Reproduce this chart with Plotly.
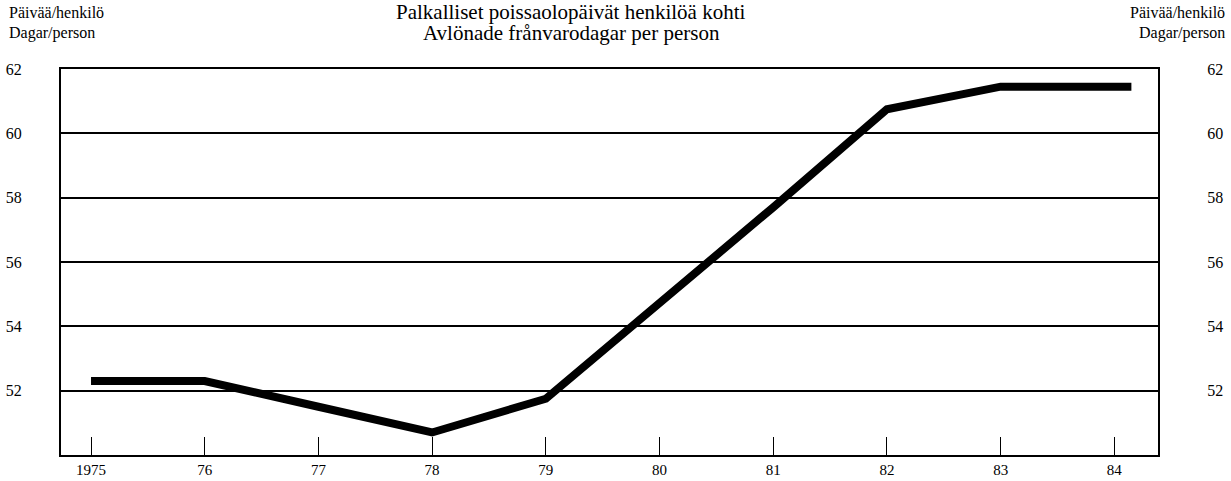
import plotly.graph_objects as go

# Paid absence days per person
years = [1975, 1976, 1977, 1978, 1979, 1980, 1981, 1982, 1983, 1984.15]
days = [52.3, 52.3, 51.5, 50.7, 51.75, 54.7, 57.7, 60.75, 61.45, 61.45]

x_ticks = [1975, 1976, 1977, 1978, 1979, 1980, 1981, 1982, 1983, 1984]
x_labels = ["1975", "76", "77", "78", "79", "80", "81", "82", "83", "84"]
y_ticks = [52, 54, 56, 58, 60, 62]

title_lines = ["Palkalliset poissaolopäivät henkilöä kohti",
               "Avlönade frånvarodagar per person"]
unit_lines = ["Päivää/henkilö", "Dagar/person"]

FONT = "Liberation Serif, Times New Roman, serif"

fig = go.Figure()

fig.add_trace(go.Scatter(
    x=years,
    y=days,
    mode="lines",
    line=dict(color="black", width=8),
    showlegend=False,
    hoverinfo="x+y",
))

# invisible trace to drive the right-hand axis
fig.add_trace(go.Scatter(
    x=[years[0]], y=[days[0]], yaxis="y2",
    mode="markers", marker=dict(opacity=0),
    showlegend=False, hoverinfo="skip",
))

yaxis_common = dict(
    range=[50, 62],
    tickvals=y_ticks,
    ticks="",
    tickfont=dict(family=FONT, size=16, color="black"),
    showline=True,
    linecolor="black",
    linewidth=2,
    zeroline=False,
    automargin=False,
)

fig.update_layout(
    width=1231,
    height=481,
    margin=dict(l=61, r=73, t=69, b=26, autoexpand=False),
    paper_bgcolor="white",
    plot_bgcolor="white",
    font=dict(family=FONT, color="black"),
    xaxis=dict(
        range=[1974.736, 1984.384],
        tickvals=x_ticks,
        ticktext=x_labels,
        ticks="inside",
        ticklen=18,
        tickwidth=1,
        tickcolor="black",
        tickfont=dict(family=FONT, size=15, color="black"),
        ticklabelstandoff=0,
        showgrid=False,
        showline=True,
        linecolor="black",
        linewidth=2,
        mirror=True,
        zeroline=False,
        automargin=False,
    ),
    yaxis=dict(
        **yaxis_common,
        showgrid=True,
        gridcolor="black",
        gridwidth=1.5,
        ticklabelstandoff=34,
    ),
    yaxis2=dict(
        **yaxis_common,
        overlaying="y",
        side="right",
        showgrid=False,
        ticklabelstandoff=44,
    ),
)

line_shifts = [57, 36]
for text, shift in zip(title_lines, line_shifts):
    fig.add_annotation(
        text=text, xref="paper", yref="paper",
        x=(571 - 61) / 1097, y=1, xanchor="center", yanchor="middle", yshift=shift,
        showarrow=False,
        font=dict(family=FONT, size=21, color="black"),
    )
for text, shift in zip(unit_lines, line_shifts):
    fig.add_annotation(
        text=text, xref="paper", yref="paper",
        x=0, y=1, xanchor="left", yanchor="middle", xshift=-54, yshift=shift,
        showarrow=False,
        font=dict(family=FONT, size=16, color="black"),
    )
    fig.add_annotation(
        text=text, xref="paper", yref="paper",
        x=1, y=1, xanchor="right", yanchor="middle", xshift=69, yshift=shift,
        showarrow=False,
        font=dict(family=FONT, size=16, color="black"),
    )

# drop the default 8px page margin so the figure sits at the window's corner
fig.write_html("out.html", config={"displayModeBar": False},
               post_script="document.body.style.margin='0';")
